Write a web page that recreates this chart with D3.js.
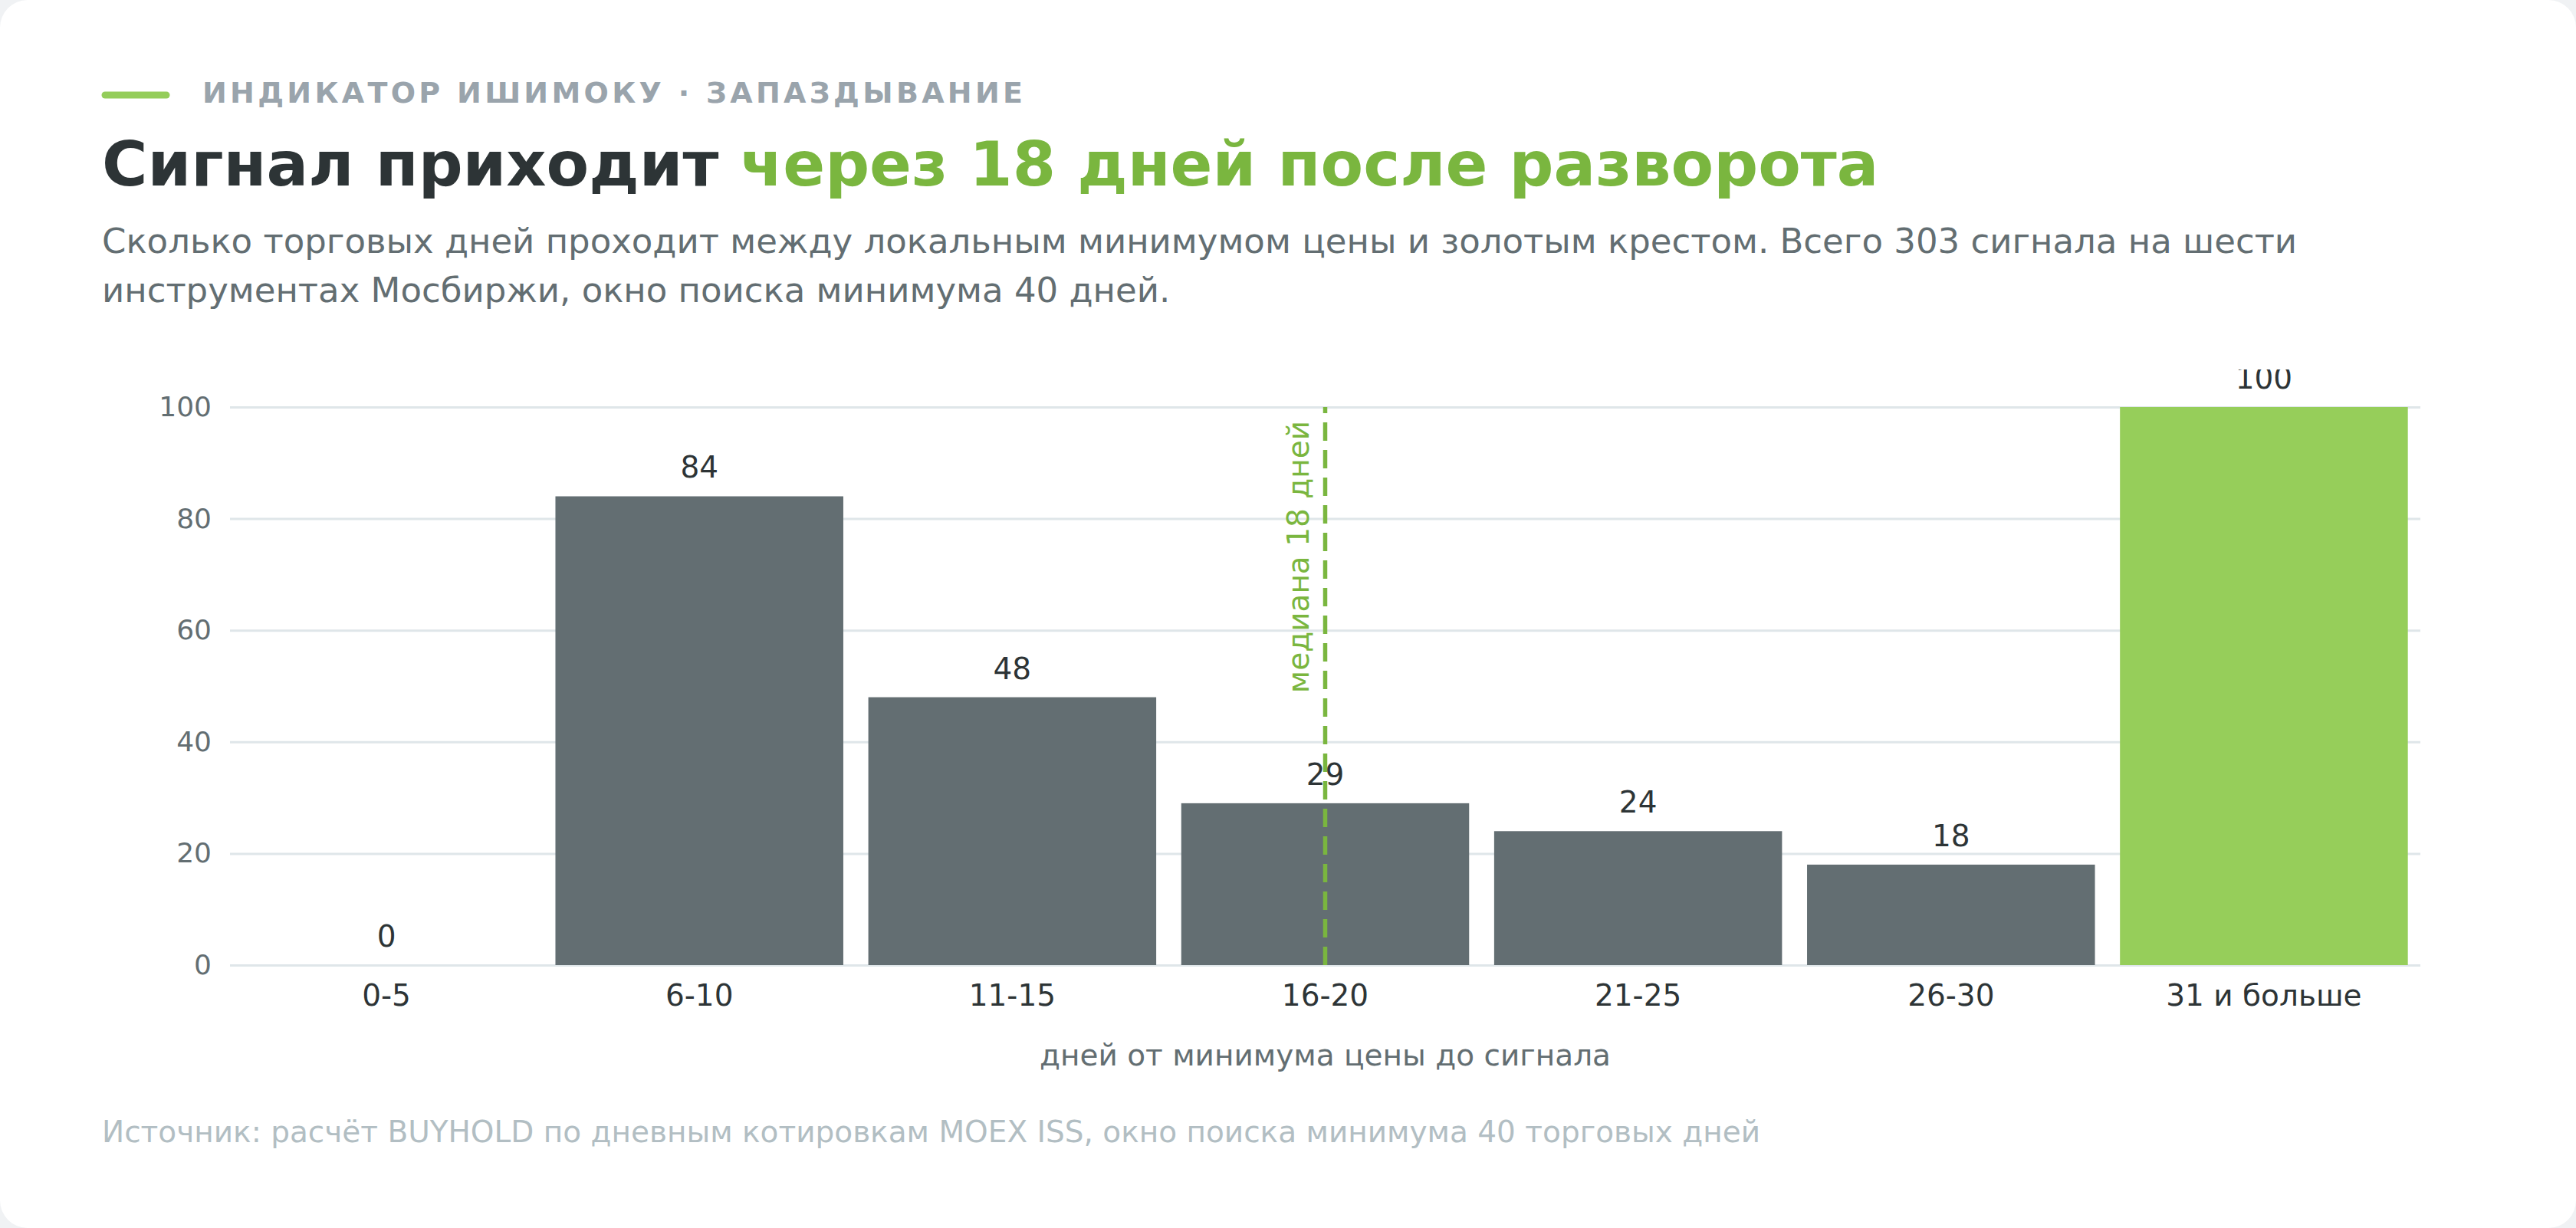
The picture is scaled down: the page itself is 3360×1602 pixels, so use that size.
<!DOCTYPE html>
<html lang="ru">
<head>
<meta charset="utf-8">
<title>Сигнал приходит через 18 дней после разворота</title>
<script src="https://cdn.jsdelivr.net/npm/d3@7"></script>
<style>
  html, body { margin: 0; padding: 0; background: #f0f2f4; }
  body { width: 3360px; height: 1602px; overflow: hidden; font-family: "DejaVu Sans", sans-serif; }
</style>
</head>
<body>
<div id="chart"></div>
<script>
// data
const categories = ["0-5", "6-10", "11-15", "16-20", "21-25", "26-30", "31 и больше"];
const counts = [0, 84, 48, 29, 24, 18, 100];
const highlight = ["31 и больше"];
const yTicks = [0, 20, 40, 60, 80, 100];
const median = { bucket: "16-20", label: "медиана 18 дней" };

const W = 3360, H = 1602;
const plot = { left: 300, right: 3157, top: 531, bottom: 1259 };

const svg = d3.select("#chart")
    .append("svg")
    .attr("width", W)
    .attr("height", H);

// card
svg.append("rect")
    .attr("width", W).attr("height", H)
    .attr("rx", 36)
    .attr("fill", "#ffffff");

// kicker
svg.append("line")
    .attr("x1", 137).attr("x2", 217)
    .attr("y1", 124).attr("y2", 124)
    .attr("stroke", "#94cd5a")
    .attr("stroke-width", 9)
    .attr("stroke-linecap", "round");

svg.append("text")
    .attr("x", 264).attr("y", 134)
    .attr("font-size", 38)
    .attr("font-weight", 700)
    .attr("letter-spacing", 4.3)
    .attr("fill", "#9aa4ac")
    .text("ИНДИКАТОР ИШИМОКУ · ЗАПАЗДЫВАНИЕ");

// title
const title = svg.append("text")
    .attr("x", 133).attr("y", 242)
    .attr("font-size", 81)
    .attr("font-weight", 700)
    .attr("fill", "#2d3436");
title.append("tspan").text("Сигнал приходит ");
title.append("tspan").attr("fill", "#7ab63f").text("через 18 дней после разворота");

// subtitle
const subLines = [
    "Сколько торговых дней проходит между локальным минимумом цены и золотым крестом. Всего 303 сигнала на шести",
    "инструментах Мосбиржи, окно поиска минимума 40 дней."
];
svg.append("g").selectAll("text")
    .data(subLines)
    .enter().append("text")
    .attr("x", 133)
    .attr("y", (d, i) => 330 + i * 64)
    .attr("font-size", 45)
    .attr("fill", "#636e72")
    .text(d => d);

// scales
const xScale = d3.scaleBand()
    .domain(categories)
    .range([plot.left, plot.right])
    .paddingInner(0.08)
    .paddingOuter(0.04);

const yScale = d3.scaleLinear()
    .domain([0, 100])
    .range([plot.bottom, plot.top]);

// chart area, clipped at the top like the original
svg.append("clipPath").attr("id", "chart-clip")
    .append("rect")
    .attr("x", 0).attr("y", 482)
    .attr("width", W).attr("height", H - 482);

const chart = svg.append("g").attr("clip-path", "url(#chart-clip)");

// y grid + labels
const yAxis = chart.append("g")
    .attr("transform", `translate(${plot.left},0)`)
    .call(d3.axisLeft(yScale)
        .tickValues(yTicks)
        .tickSize(-(plot.right - plot.left))
        .tickPadding(24));
yAxis.select(".domain").remove();
yAxis.selectAll(".tick line")
    .attr("stroke", "#dfe6e9")
    .attr("stroke-width", 3);
yAxis.selectAll(".tick text")
    .attr("font-family", "DejaVu Sans, sans-serif")
    .attr("font-size", 36)
    .attr("fill", "#636e72");

// bars
chart.selectAll(".bar")
    .data(categories)
    .enter().append("rect")
    .attr("class", "bar")
    .attr("x", d => xScale(d))
    .attr("y", (d, i) => yScale(counts[i]))
    .attr("width", xScale.bandwidth())
    .attr("height", (d, i) => yScale(0) - yScale(counts[i]))
    .attr("fill", d => highlight.includes(d) ? "#96ce5a" : "#636e72");

// value labels
chart.selectAll(".value")
    .data(categories)
    .enter().append("text")
    .attr("class", "value")
    .attr("x", d => xScale(d) + xScale.bandwidth() / 2)
    .attr("y", (d, i) => yScale(counts[i]) - 24)
    .attr("text-anchor", "middle")
    .attr("font-size", 39)
    .attr("fill", "#2d3436")
    .text((d, i) => counts[i]);

// median line
const mx = xScale(median.bucket) + xScale.bandwidth() / 2;
chart.append("line")
    .attr("x1", mx).attr("x2", mx)
    .attr("y1", yScale(0)).attr("y2", yScale(100))
    .attr("stroke", "#7ab63f")
    .attr("stroke-width", 5.5)
    .attr("stroke-dasharray", "24 12");

chart.append("text")
    .attr("transform", `translate(${mx - 22},${yScale(100) + 18}) rotate(-90)`)
    .attr("text-anchor", "end")
    .attr("font-size", 39)
    .attr("fill", "#7ab63f")
    .text(median.label);

// x axis labels
const xAxis = chart.append("g")
    .attr("transform", `translate(0,${plot.bottom})`)
    .call(d3.axisBottom(xScale).tickSize(0).tickPadding(25));
xAxis.select(".domain").remove();
xAxis.selectAll(".tick text")
    .attr("font-family", "DejaVu Sans, sans-serif")
    .attr("font-size", 39)
    .attr("fill", "#2d3436");

// x axis title
svg.append("text")
    .attr("x", (plot.left + plot.right) / 2)
    .attr("y", 1390)
    .attr("text-anchor", "middle")
    .attr("font-size", 39)
    .attr("fill", "#636e72")
    .text("дней от минимума цены до сигнала");

// source
svg.append("text")
    .attr("x", 133).attr("y", 1490)
    .attr("font-size", 39)
    .attr("fill", "#b2bec3")
    .text("Источник: расчёт BUYHOLD по дневным котировкам MOEX ISS, окно поиска минимума 40 торговых дней");
</script>
</body>
</html>
